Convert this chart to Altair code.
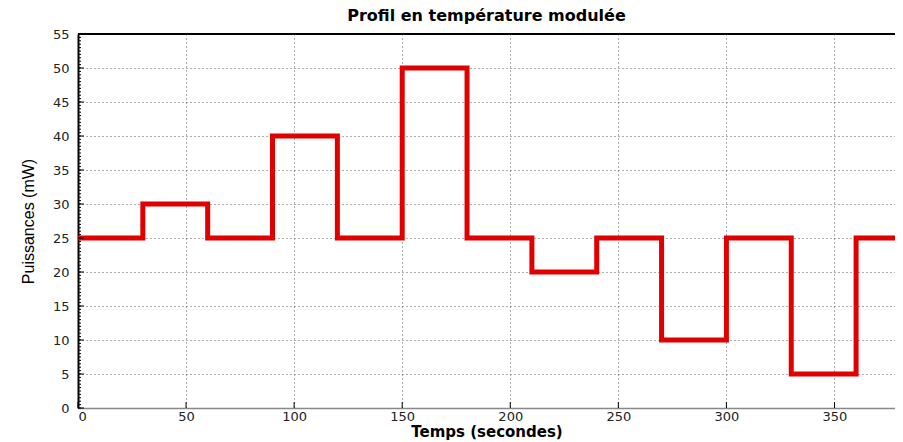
import altair as alt
import pandas as pd

# step boundaries (seconds) and power levels (mW)
t_start = [0, 30, 60, 90, 120, 150, 180, 210, 240, 270, 300, 330, 360, 378]
power = [25, 30, 25, 40, 25, 50, 25, 20, 25, 10, 25, 5, 25, 25]

x_ticks = [0, 50, 100, 150, 200, 250, 300, 350]
y_ticks = [0, 5, 10, 15, 20, 25, 30, 35, 40, 45, 50, 55]
y_minor = [i * 0.5 for i in range(0, 111)]

W, H = 817, 374

df = pd.DataFrame({"t": t_start, "p": power})
df_minor = pd.DataFrame({"v": y_minor})
df_xt = pd.DataFrame({"v": x_ticks})
df_yt = pd.DataFrame({"v": y_ticks})

xs = alt.Scale(domain=[0, 378], nice=False, zero=False)
ys = alt.Scale(domain=[0, 55], nice=False)

line = alt.Chart(df).mark_line(
    interpolate="step-after", color="#e00000", strokeWidth=5, clip=True
).encode(
    x=alt.X("t:Q", scale=xs, axis=alt.Axis(
        values=x_ticks, title="Temps (secondes)", grid=True,
        gridDash=[1, 3], gridColor="#333333", gridOpacity=0.8,
        domainColor="#888888", domainWidth=1.5,
        tickColor="#000000", tickSize=0, labelOverlap=False,
        labelFont="DejaVu Sans", labelFontSize=13, labelColor="#222222",
        labelPadding=2,
        titleFont="DejaVu Sans", titleFontSize=15, titleFontWeight="bold",
        titleColor="#000000", titlePadding=1)),
    y=alt.Y("p:Q", scale=ys, axis=alt.Axis(
        values=y_ticks, title="Puissances (mW)", grid=True,
        gridDash=[1, 3], gridColor="#333333", gridOpacity=0.8,
        domainColor="#000000", domainWidth=2,
        tickColor="#000000", tickSize=0, labelOverlap=False,
        labelFont="DejaVu Sans", labelFontSize=13, labelColor="#222222",
        labelPadding=9,
        titleFont="Liberation Sans", titleFontSize=16,
        titleFontWeight="normal", titleColor="#000000", titlePadding=16)),
)

minor = alt.Chart(df_minor).mark_rule(color="#000000", strokeWidth=1).encode(
    y=alt.Y("v:Q", scale=ys, axis=None), x=alt.value(0), x2=alt.value(3)
)
ymajor = alt.Chart(df_yt).mark_rule(color="#000000", strokeWidth=1).encode(
    y=alt.Y("v:Q", scale=ys, axis=None), x=alt.value(0), x2=alt.value(6)
)
xmajor = alt.Chart(df_xt).mark_rule(color="#000000", strokeWidth=1).encode(
    x=alt.X("v:Q", scale=xs, axis=None), y=alt.value(H - 6), y2=alt.value(H)
)

top = alt.Chart(df).mark_rule(color="#000000", strokeWidth=1.5).encode(
    x=alt.value(0), x2=alt.value(W), y=alt.value(0)
)

chart = alt.layer(line, minor, ymajor, xmajor, top).resolve_axis(
    x="independent", y="independent"
).properties(
    width=W, height=H,
    title=alt.TitleParams("Profil en température modulée", font="DejaVu Sans",
                          fontSize=16, fontWeight="bold", color="#000000",
                          anchor="middle", offset=4),
    autosize=alt.AutoSizeParams(type="none"),
    padding={"left": 70, "top": 26, "right": 0, "bottom": 34},
).configure_view(stroke=None).configure(background="white")

chart.save("out.html", embed_options={"renderer": "svg", "actions": False})
